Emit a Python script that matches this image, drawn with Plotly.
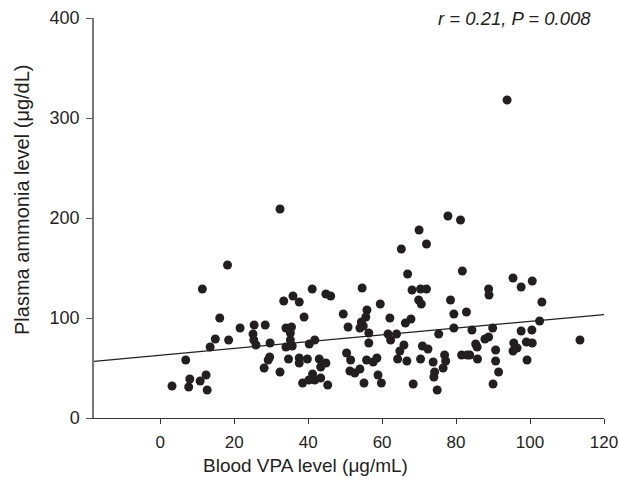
import plotly.graph_objects as go

# Blood VPA level (ug/mL)
vpa = [18.2, 11.4, 16.1, 21.6, 25.4, 28.4, 14.9, 18.5, 13.5, 25.1, 25.3, 25.9, 29.7, 6.9, 8.0,
       12.4, 10.8, 3.2, 7.7, 12.7, 28.1, 29.2,
       32.4, 33.4, 35.9, 37.6, 41.1, 44.8, 46.1, 38.9, 34.0, 35.5, 35.2, 35.2, 34.0, 35.7, 40.3,
       41.8, 29.6, 32.4, 34.7, 37.6, 37.6, 39.8, 43.0, 43.4, 44.8, 41.2, 41.8, 40.2, 38.5, 43.4,
       45.3, 49.5, 50.8, 54.6, 55.9, 55.6, 54.4, 54.9, 54.0, 56.4, 56.4, 59.5, 62.1, 50.4, 51.5,
       51.3, 54.0, 52.6, 55.1, 55.8, 57.6, 58.6, 58.9, 59.8, 61.6, 62.3, 63.9, 65.2, 70.0, 72.0,
       66.9, 68.1, 70.4, 72.0, 69.9, 70.6, 66.3, 67.8, 65.9, 64.8, 64.2, 66.7, 70.9, 72.4, 70.4,
       68.4, 73.8, 74.2, 74.0, 74.9, 75.3,
       77.8, 81.2, 81.7, 78.5, 79.4, 82.8, 79.4, 84.3, 89.9, 88.8, 88.9, 95.4, 97.6, 100.6, 103.2,
       102.6, 97.6, 100.5, 87.8, 88.8, 85.3, 85.7, 95.6, 96.5, 95.4, 99.0, 100.6, 99.2, 113.5,
       81.5, 83.0, 83.7, 85.8, 90.7, 90.7, 91.5, 90.0, 76.9, 77.2, 76.5, 93.8]

# Plasma ammonia level (ug/dL)
ammonia = [153, 129, 100, 90, 93, 93, 79, 78, 71, 84, 78, 73, 75, 58, 39,
           43, 37, 32, 31, 28, 50, 58,
           209, 117, 122, 116, 129, 124, 122, 101, 90, 91, 85, 78, 71, 72, 74,
           78, 61, 46, 59, 60, 55, 59, 59, 51, 55, 44, 38, 38, 35, 40,
           33, 104, 91, 130, 108, 101, 96, 92, 90, 85, 75, 114, 100, 65, 58,
           47, 49, 45, 35, 58, 56, 60, 43, 35, 84, 78, 84, 169, 188, 174,
           144, 128, 129, 129, 118, 114, 95, 99, 73, 67, 59, 57, 72, 69, 59,
           34, 56, 46, 41, 28, 84,
           202, 198, 147, 118, 104, 106, 90, 88, 90, 129, 123, 140, 131, 137, 116,
           97, 87, 88, 79, 81, 74, 71, 75, 70, 67, 76, 75, 58, 78,
           63, 63, 63, 59, 68, 57, 46, 34, 63, 57, 50, 318]

# Regression line end points
fit_x = [-17.9, 120]
fit_y = [56.7, 103.4]

x_ticks = [0, 20, 40, 60, 80, 100, 120]
y_ticks = [0, 100, 200, 300, 400]

annot_text = "r = 0.21, P = 0.008"
x_title = "Blood VPA level (\u03bcg/mL)"
y_title = "Plasma ammonia level (\u03bcg/dL)"

ink = "#231f20"
font_family = "Liberation Sans, Arial, sans-serif"

fig = go.Figure()
fig.add_trace(go.Scatter(x=fit_x, y=fit_y, mode="lines",
                         line=dict(color=ink, width=1.2), showlegend=False, hoverinfo="skip"))
fig.add_trace(go.Scatter(x=vpa, y=ammonia, mode="markers",
                         marker=dict(color=ink, size=9, line=dict(width=0)),
                         showlegend=False))

fig.update_layout(
    width=619, height=488,
    margin=dict(l=94, r=15, t=18, b=70, autoexpand=False),
    paper_bgcolor="white", plot_bgcolor="white",
    font=dict(family=font_family, size=18, color=ink),
    xaxis=dict(range=[-17.9, 120], tickvals=x_ticks, ticks="outside", ticklen=5,
               tickcolor="#333", showline=True, linecolor="#333", linewidth=1.2,
               showgrid=False, zeroline=False, tickfont=dict(size=17),
               ticklabeloverflow="allow", ticklabelstandoff=3),
    yaxis=dict(range=[0, 400], tickvals=y_ticks, ticks="outside", ticklen=6,
               tickcolor="#555", showline=True, linecolor="#777", linewidth=1.5,
               showgrid=False, zeroline=False, tickfont=dict(size=18),
               ticklabeloverflow="allow", ticklabelstandoff=3),
    annotations=[
        dict(text=annot_text, xref="paper", yref="paper", x=0.978, y=1.0,
             xanchor="right", yanchor="middle", showarrow=False,
             font=dict(size=18.5, style="italic", color=ink)),
        dict(text=x_title, xref="paper", yref="paper", x=0.414, y=0,
             xanchor="center", yanchor="middle", yshift=-47, showarrow=False,
             font=dict(size=19, color=ink)),
        dict(text=y_title, xref="paper", yref="paper", x=0, y=0.5,
             xanchor="center", yanchor="middle", xshift=-72, yshift=18, textangle=-90,
             showarrow=False, font=dict(size=20, color=ink)),
    ],
)

# remove the default page margin so the figure fills the 619x488 window exactly
fig.write_html("out.html",
               config={"displayModeBar": False},
               post_script="document.body.style.margin='0';"
                           "document.documentElement.style.overflow='hidden';")
